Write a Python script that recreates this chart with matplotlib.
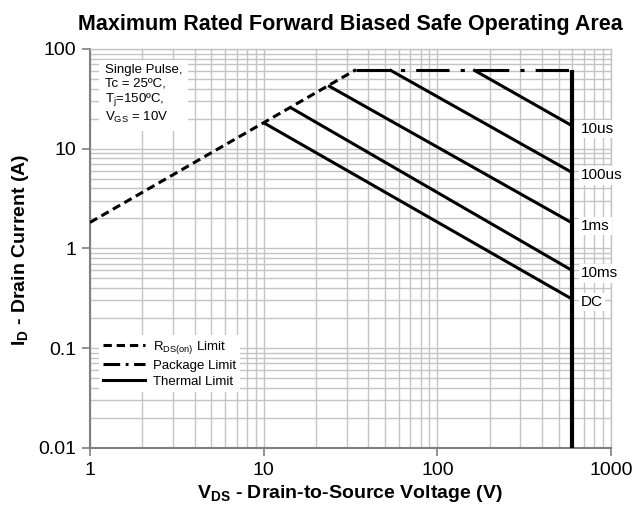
import matplotlib
matplotlib.use('Agg')
import matplotlib.pyplot as plt
from matplotlib.lines import Line2D

plt.rcParams['font.family'] = ['Liberation Sans', 'DejaVu Sans']
plt.rcParams['mathtext.fontset'] = 'custom'
plt.rcParams['mathtext.rm'] = 'Liberation Sans'
plt.rcParams['mathtext.it'] = 'Liberation Sans:italic'
plt.rcParams['mathtext.bf'] = 'Liberation Sans:bold'
plt.rcParams['lines.scale_dashes'] = False

# RDS(on) limit and package limit
rds_v = [1, 34]
rds_i = [1.82, 62]
pkg_v = [34, 600]
pkg_i = [62, 62]

# thermal limit lines (slope -1), all end at 600 V
pulse_labels = ['10us', '100us', '1ms', '10ms', 'DC']
start_v = [161, 53, 23.5, 14.2, 10]
start_i = [62, 62, 43, 26, 18.2]
end_v = 600
end_i = [16.9, 5.74, 1.79, 0.597, 0.308]

bvdss_v = [600, 600]
bvdss_i = [0.01, 62]

xticks = [1, 10, 100, 1000]
xticklabels = ['1', '10', '100', '1000']
yticks = [0.01, 0.1, 1, 10, 100]
yticklabels = ['0.01', '0.1', '1', '10', '100']

fig = plt.figure(figsize=(6.36, 5.18), dpi=100)
ax = fig.add_axes([90 / 636, 1 - 447.7 / 518, 521 / 636, 398.7 / 518])

ax.set_xscale('log')
ax.set_yscale('log')
ax.set_xlim(1, 1000)
ax.set_ylim(0.01, 100)

ax.grid(True, which='both', color='#c4c4c4', linewidth=1.0, zorder=0)
ax.set_axisbelow(True)

ax.plot(rds_v, rds_i, color='black', lw=2.2, dashes=(6, 3.5), zorder=3)
ax.plot(pkg_v, pkg_i, color='black', lw=2.2, dashes=(24, 8, 3, 8), zorder=3)
for lab, v0, i0, i1 in zip(pulse_labels, start_v, start_i, end_i):
    ax.plot([v0, end_v], [i0, i1], color='black', lw=2.2, solid_capstyle='butt', zorder=3)
    ax.annotate(lab, xy=(end_v, i1), xytext=(6, -2), textcoords='offset points',
                ha='left', va='center', fontsize=11, annotation_clip=False,
                bbox=dict(facecolor='white', edgecolor='none', pad=1.5), zorder=4)
ax.plot(bvdss_v, bvdss_i, color='black', lw=3.0, solid_capstyle='butt', zorder=3, clip_on=False)

ax.text(1.22, 70, 'Single Pulse,\nTc = 25ºC,\nT$_{\\mathrm{j}}$=150ºC,\nV$_{\\mathrm{GS}}$ = 10V',
        fontsize=9.5, va='top', ha='left', linespacing=1.15,
        bbox=dict(facecolor='white', edgecolor='none', pad=4), zorder=4)

handles = [Line2D([], [], color='black', lw=2.2, dashes=(6, 3.5)),
           Line2D([], [], color='black', lw=2.2, dashes=(12, 4, 2, 4)),
           Line2D([], [], color='black', lw=2.2)]
leg = ax.legend(handles, ['R$_{\\mathrm{DS(on)}}$ Limit', 'Package Limit', 'Thermal Limit'],
                loc='lower left', bbox_to_anchor=(0.005, 0.123), fontsize=9.5,
                frameon=True, fancybox=False, edgecolor='none', framealpha=1,
                handlelength=3.2, handletextpad=0.6, labelspacing=0.3, borderpad=0.3)
leg.set_zorder(5)

ax.set_xticks(xticks)
ax.set_xticklabels(xticklabels)
ax.set_yticks(yticks)
ax.set_yticklabels(yticklabels)
ax.minorticks_on()
ax.tick_params(which='minor', length=0)
ax.tick_params(which='major', length=6, width=1.2, color='#808080', labelsize=14, pad=4)

for s in ['left', 'bottom']:
    ax.spines[s].set_color('#808080')
    ax.spines[s].set_linewidth(1.5)
for s in ['top', 'right']:
    ax.spines[s].set_color('#c4c4c4')
    ax.spines[s].set_linewidth(1.0)

fig.text(350 / 636, 1 - 494 / 518, '$\\mathbf{V_{DS}}$ - Drain-to-Source Voltage (V)',
         fontsize=14, fontweight='bold', ha='center', va='center')
fig.text(21 / 636, 1 - 250 / 518, '$\\mathbf{I_{D}}$ - Drain Current (A)',
         fontsize=14, fontweight='bold', ha='center', va='center', rotation=90)
ax.set_title('Maximum Rated Forward Biased Safe Operating Area', fontsize=15.5, fontweight='bold', pad=14)

fig.savefig('out.png', dpi=100)
